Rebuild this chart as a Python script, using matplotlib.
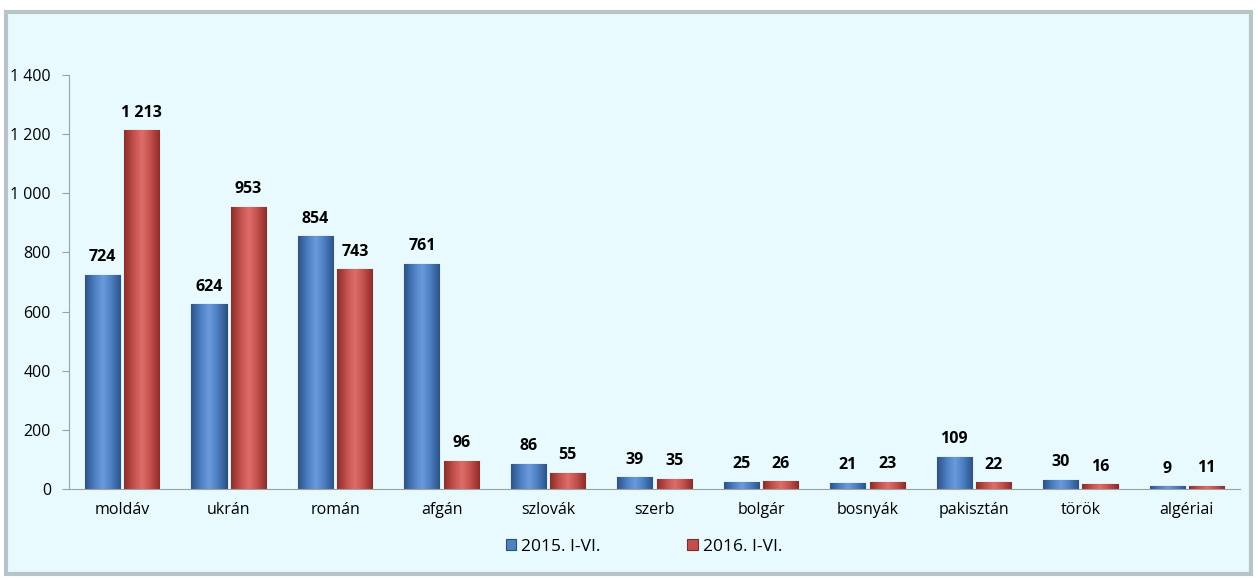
import numpy as np
import matplotlib.pyplot as plt
from matplotlib.patches import Rectangle
from matplotlib.colors import LinearSegmentedColormap

categories = ['moldáv', 'ukrán', 'román', 'afgán', 'szlovák', 'szerb',
              'bolgár', 'bosnyák', 'pakisztán', 'török', 'algériai']
v2015 = [724, 624, 854, 761, 86, 39, 25, 21, 109, 30, 9]
v2016 = [1213, 953, 743, 96, 55, 35, 26, 23, 22, 16, 11]
series_labels = ['2015. I-VI.', '2016. I-VI.']
yticks = [0, 200, 400, 600, 800, 1000, 1200, 1400]


def fmt(v):
    return f'{v:,}'.replace(',', ' ')


def shade(ax, bars, dark, mid, light):
    # cylinder-like horizontal gradient inside each bar
    cmap = LinearSegmentedColormap.from_list('c', [dark, mid, light, mid, dark])
    grad = np.linspace(0, 1, 64).reshape(1, -1)
    for r in bars:
        x0, y0 = r.get_x(), r.get_y()
        im = ax.imshow(grad, cmap=cmap, aspect='auto', interpolation='bicubic',
                       extent=(x0, x0 + r.get_width(), y0, y0 + r.get_height()),
                       zorder=r.get_zorder() + 0.1)
        im.set_clip_path(r)


def main():
    plt.rcParams['font.family'] = ['Open Sans', 'DejaVu Sans']
    fig = plt.figure(figsize=(12.58, 5.8), dpi=100)
    fig.patch.set_facecolor('white')

    # panel behind the chart
    panel = Rectangle((6 / 1258, 6 / 580), 1245 / 1258, 562 / 580,
                      transform=fig.transFigure, facecolor='#E8FAFE',
                      edgecolor='#B8C4C8', linewidth=3, zorder=-10)
    fig.add_artist(panel)

    ax = fig.add_axes([69 / 1258, 1 - 489 / 580, 1171 / 1258, 414 / 580])
    ax.set_facecolor('none')

    x = np.arange(len(categories))
    w = 0.33
    g = 0.02
    b1 = ax.bar(x - w / 2 - g, v2015, w, color='#4F81BD', edgecolor='#2C4D75',
                linewidth=0.8, label=series_labels[0])
    b2 = ax.bar(x + w / 2 + g, v2016, w, color='#C0504D', edgecolor='#7A2E2C',
                linewidth=0.8, label=series_labels[1])
    shade(ax, b1, '#2D5287', '#4A7CC0', '#6A9BDC')
    shade(ax, b2, '#8A2E2B', '#C24E4A', '#DE6E6A')

    for bars, vals in ((b1, v2015), (b2, v2016)):
        for r, v in zip(bars, vals):
            ax.annotate(fmt(v), (r.get_x() + r.get_width() / 2, v),
                        xytext=(0, 7), textcoords='offset points',
                        ha='center', va='bottom', fontsize=11.5,
                        fontweight='bold', color='black', zorder=5)

    ax.set_xlim(-0.5, len(categories) - 0.5)
    ax.set_ylim(0, 1400)
    ax.set_yticks(yticks)
    ax.set_yticklabels([fmt(t) for t in yticks], fontsize=11.5)
    ax.set_xticks(x)
    ax.set_xticklabels(categories, fontsize=11.5)
    ax.tick_params(axis='x', length=0, pad=9)
    ax.tick_params(axis='y', length=5, color='#A0A0A0', pad=8)
    for s in ('top', 'right'):
        ax.spines[s].set_visible(False)
    ax.spines['left'].set_color('#A0A0A0')
    ax.spines['bottom'].set_color('#A0A0A0')

    fig.legend(loc='center', bbox_to_anchor=(0.512, 1 - 547 / 580), ncol=2,
               frameon=False, fontsize=12.5, handlelength=0.6, handleheight=0.6,
               columnspacing=5.0, handletextpad=0.3)

    fig.savefig('out.png', dpi=100)


if __name__ == '__main__':
    main()
